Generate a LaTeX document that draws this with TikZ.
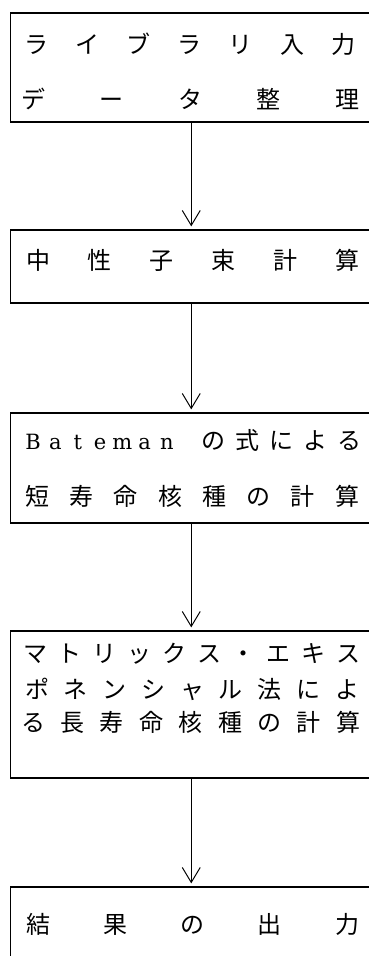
\documentclass[tikz,border=0pt]{standalone}
\usepackage{fontspec}
\newfontfamily\cjk{Noto Sans CJK JP}
\newfontfamily\latinserif{DejaVu Serif}
\usetikzlibrary{arrows.meta}
\makeatletter
\newcommand\pitched[2]{\@tfor\pch:=#2\do{\makebox[#1][c]{\pch}}}
\makeatother
\tikzset{
  box/.style={draw,line width=1.2pt,rectangle,minimum width=361.5pt,inner sep=0pt},
  arr/.style={-{Straight Barb[length=15pt,width=18pt,line width=1pt]},line width=1pt,shorten >=3pt},
  txt/.style={anchor=base west,inner sep=0pt,font=\cjk\fontsize{24pt}{24pt}\selectfont},
}
\begin{document}
\begin{tikzpicture}[x=1pt,y=-1pt]
\useasboundingbox (0,0) rectangle (369,956);
\clip (0,0) rectangle (369,956);
% boxes
\node[box,minimum height=109pt] (b1) at (191.25,67.5) {};
\node[box,minimum height=73pt]  (b2) at (191.25,266.5) {};
\node[box,minimum height=110pt] (b3) at (191.25,468) {};
\node[box,minimum height=147pt] (b4) at (191.25,704.5) {};
\node[box,minimum height=78pt]  (b5) at (191.25,926) {};
% texts
\node[txt] (t1a) at (10.4,53.1) {\pitched{51.17pt}{ライブラリ入力}};
\node[txt] (t1b) at (-6.25,108.1) {\pitched{78.5pt}{データ整理}};
\node[txt] (t2) at (7.1,269.1) {\pitched{61.8pt}{中性子束計算}};
\node[txt] (t3a) at (21.85,449) {{\latinserif\fontsize{21pt}{21pt}\selectfont\pitched{22.3pt}{Bateman}}\hspace{18.05pt}\pitched{34pt}{の式による}};
\node[txt] (t3b) at (14.85,505.1) {\pitched{44.3pt}{短寿命核種の計算}};
\node[txt] (t4a) at (17.6,662.1) {\pitched{34.8pt}{マトリックス・エキス}};
\node[txt] (t4b) at (17.6,698.1) {\pitched{38.75pt}{ポネンシャル法によ}};
\node[txt] (t4c) at (13.3,731.1) {\pitched{39.4pt}{る長寿命核種の計算}};
\node[txt] (t5) at (-0.6,933.1) {\pitched{77.25pt}{結果の出力}};
% arrows
\draw[arr] (b1.south) -- (b2.north);
\draw[arr] (b2.south) -- (b3.north);
\draw[arr] (b3.south) -- (b4.north);
\draw[arr] (b4.south) -- (b5.north);
\end{tikzpicture}
\end{document}
